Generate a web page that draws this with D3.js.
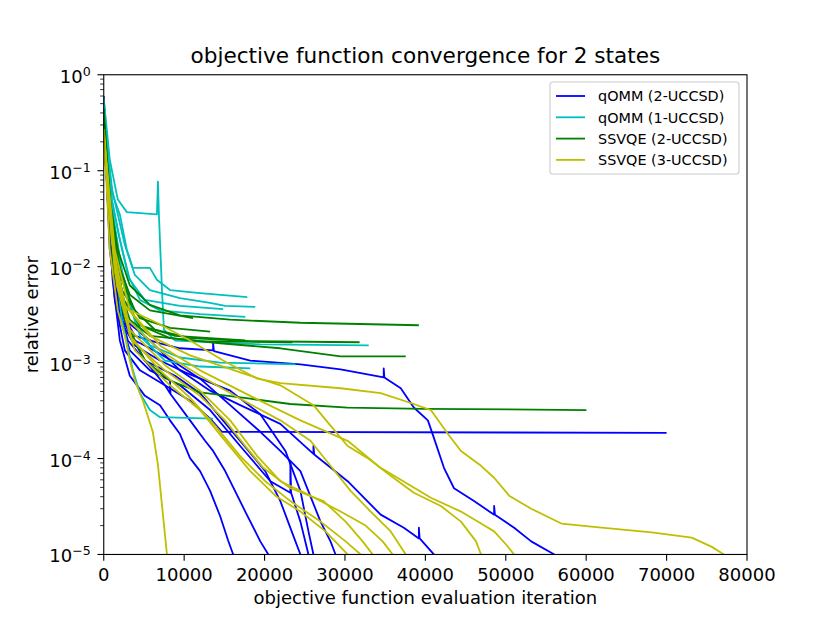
<!DOCTYPE html>
<html>
<head>
<meta charset="utf-8">
<script src="https://cdn.jsdelivr.net/npm/d3@7"></script>
<style>
  body { margin: 0; background: #fff; }
  text { font-family: "DejaVu Sans", sans-serif; }
</style>
</head>
<body>
<div class="chart-container"></div>
<script>
// each run is a list of [iteration, relative error]
const seriesNames = ["qOMM (2-UCCSD)", "qOMM (1-UCCSD)", "SSVQE (2-UCCSD)", "SSVQE (3-UCCSD)"];
const seriesColors = ["#0000ff", "#00bfbf", "#008000", "#bfbf00"];

const qommTwoRuns = [
  [[0,0.35],[500,0.05],[1000,0.0118],[1750,0.0045],[3000,0.0022],[5120,0.00105],[7610,0.00058],[10730,0.0004],[13230,0.00026],[14700,0.00019],[70000,0.000185]],
  [[0,0.44],[370,0.081],[750,0.015],[1370,0.0057],[2250,0.0033],[3870,0.0019],[6990,0.00159],[9480,0.00141],[13600,0.00134],[13600,0.0016],[13700,0.00132],[18220,0.00105],[24460,0.00096],[29450,0.00085],[34820,0.0007],[34820,0.00087],[34900,0.0007],[36940,0.00054],[38560,0.00034],[40310,0.00025],[41060,0.000164],[42310,8e-5],[43560,4.9e-5],[46050,3.6e-5],[48550,2.6e-5],[48550,3.2e-5],[48650,2.6e-5],[51040,1.9e-5],[53160,1.37e-5],[56040,1e-5],[56300,9.5e-6]],
  [[0,0.6],[500,0.05],[1100,0.0073],[2000,0.0017],[3240,0.00073],[5120,0.00045],[6990,0.00036],[8240,0.00025],[9480,0.00018],[10730,0.000101],[11980,7.4e-5],[13230,4.6e-5],[14480,2.5e-5],[15470,1.4e-5],[16100,1e-5],[16500,8.5e-6]],
  [[0,0.39],[620,0.031],[1370,0.0045],[2620,0.00134],[4500,0.00083],[7610,0.00058],[8240,0.00048],[8240,0.00065],[8300,0.00047],[10730,0.00025],[12600,0.000153],[13600,0.00012],[15100,7.4e-5],[17600,2.8e-5],[19470,1.37e-5],[20470,1e-5],[20800,8.5e-6]],
  [[0,0.35],[750,0.024],[1620,0.0045],[3000,0.0017],[5120,0.00105],[8860,0.00073],[11980,0.00048],[16970,0.000153],[20090,7.4e-5],[21960,3.6e-5],[23840,1.37e-5],[24460,1e-5],[24800,8.5e-6]],
  [[0,0.42],[750,0.019],[1750,0.0035],[3240,0.00134],[5740,0.00083],[9480,0.00058],[13230,0.00032],[16970,0.000135],[20720,5.8e-5],[23210,4.4e-5],[23210,9.4e-5],[23300,4.4e-5],[24460,2.2e-5],[25460,1e-5],[25700,8.5e-6]],
  [[0,0.5],[870,0.015],[2000,0.0028],[3870,0.00151],[6990,0.00105],[10110,0.00079],[15720,0.00051],[19470,0.00029],[22590,0.00012],[24460,4.6e-5],[25460,1.74e-5],[26080,1e-5],[26400,8.5e-6]],
  [[0,0.31],[1000,0.0118],[2250,0.0028],[3870,0.0017],[5740,0.00141],[8860,0.001],[11980,0.00068],[15720,0.00036],[19470,0.00019],[21960,0.00012],[24460,7.4e-5],[26960,2.2e-5],[28200,1.37e-5],[28830,1e-5],[29200,8.5e-6]],
  [[0,0.27],[1000,0.015],[2620,0.0028],[5740,0.0017],[9480,0.00083],[13230,0.00051],[16970,0.00036],[21960,0.00023],[26080,0.000112],[26080,0.000135],[26180,0.00011],[30330,5.8e-5],[34440,2.6e-5],[37320,1.9e-5],[39190,1.47e-5],[39190,1.9e-5],[39290,1.47e-5],[41060,1e-5],[41400,8.5e-6]]
];

const qommOneRuns = [
  [[0,0.56],[500,0.17],[1100,0.057],[2000,0.035],[2870,0.015],[3620,0.0097],[5740,0.0097],[6610,0.0073],[8240,0.0057],[11980,0.0053],[17850,0.0048]],
  [[0,0.44],[750,0.081],[1620,0.039],[2620,0.0169],[3870,0.0082],[5740,0.0057],[9480,0.0047],[13230,0.0042],[15100,0.0039],[18840,0.0038]],
  [[0,0.35],[1000,0.05],[2000,0.019],[3240,0.0073],[5120,0.0045],[9480,0.0039],[14850,0.0036]],
  [[0,0.39],[750,0.064],[1750,0.024],[3000,0.0082],[4500,0.0045],[6990,0.0035],[11980,0.0032],[17600,0.003]],
  [[0,0.56],[750,0.13],[1750,0.05],[2870,0.037],[6610,0.035],[6740,0.077],[6860,0.035],[7240,0.0057],[7490,0.0022],[8860,0.0017],[19470,0.00155],[32950,0.00151]],
  [[0,0.27],[1000,0.039],[2250,0.0092],[3870,0.0028],[5740,0.00151],[9480,0.00113],[14480,0.001],[23840,0.00096]],
  [[0,0.31],[1250,0.031],[2620,0.0057],[4500,0.0019],[7610,0.00105],[11980,0.00091],[18220,0.00087]],
  [[0,0.21],[1000,0.024],[2250,0.0028],[3620,0.00083],[4500,0.00048],[5740,0.00032],[6990,0.00027],[13600,0.00026]]
];

const ssvqeTwoRuns = [
  [[0,0.44],[750,0.05],[1750,0.015],[3240,0.0064],[5740,0.004],[9480,0.0031],[15720,0.0028],[24460,0.0026],[39190,0.00245]],
  [[0,0.35],[1000,0.031],[2250,0.0073],[3870,0.0035],[6360,0.0022],[10730,0.0018],[18220,0.00167],[31820,0.00163]],
  [[0,0.31],[1000,0.024],[2000,0.0057],[3240,0.0028],[5740,0.0019],[11980,0.00167],[23460,0.00163]],
  [[0,0.27],[1100,0.015],[2500,0.0045],[4500,0.00245],[8240,0.0018],[14480,0.00159],[21960,0.00141],[29450,0.00116],[37560,0.00116]],
  [[0,0.21],[1250,0.0092],[2620,0.0028],[5120,0.00105],[8240,0.00065],[11980,0.00049],[18220,0.00042],[23210,0.00037],[30330,0.00034],[39810,0.00033],[60030,0.00032]],
  [[0,0.35],[750,0.039],[1750,0.011],[3240,0.0051],[5740,0.0035],[11110,0.0029]],
  [[0,0.31],[1000,0.0215],[2250,0.0057],[4500,0.0029],[8240,0.0023],[13230,0.0021]],
  [[0,0.27],[1100,0.0169],[2500,0.0045],[4500,0.00245],[8860,0.0019],[17600,0.0017]]
];

const ssvqeThreeRuns = [
  [[0,0.27],[750,0.015],[1750,0.0035],[2620,0.0019],[3240,0.00105],[3870,0.00065],[4870,0.0004],[6100,0.00019],[6740,8.6e-5],[7360,2.6e-5],[7860,1e-5],[8000,8.5e-6]],
  [[0,0.27],[1000,0.019],[2370,0.0038],[6610,0.0026],[10730,0.0017],[14850,0.00105],[19090,0.00068],[21960,0.00061],[29450,0.00054],[34440,0.00048],[38560,0.00037],[40680,0.00032],[42810,0.00018],[44430,0.00012],[46920,8.4e-5],[48550,6.3e-5],[50420,4.1e-5],[53160,3.0e-5],[56910,2.1e-5],[61900,1.9e-5],[68140,1.7e-5],[73130,1.5e-5],[75630,1.2e-5],[77130,1e-5],[77500,9e-6]],
  [[0,0.24],[1370,0.015],[3240,0.0035],[6990,0.00151],[11980,0.00083],[18220,0.00045],[24460,0.00025],[30330,0.000153],[34440,8e-5],[40680,3.9e-5],[44430,2.8e-5],[46920,2.1e-5],[48550,1.74e-5],[50040,1.27e-5],[51040,1e-5],[51300,9e-6]],
  [[0,0.27],[1100,0.0169],[2620,0.004],[5740,0.0019],[10730,0.00119],[16970,0.00079],[21960,0.00058],[26080,0.00036],[28200,0.00022],[30330,0.000135],[32820,0.000101],[35690,6.6e-5],[38560,4.4e-5],[41930,3.2e-5],[44430,2.2e-5],[46300,1.37e-5],[46920,1e-5],[47100,9e-6]],
  [[0,0.24],[1250,0.0133],[3000,0.0028],[6990,0.00134],[11980,0.00073],[16970,0.00042],[21960,0.00025],[25710,0.000153],[28200,8.4e-5],[30700,4.6e-5],[33200,2.8e-5],[35690,1.74e-5],[37560,1e-5],[37800,9e-6]],
  [[0,0.21],[1370,0.0104],[3240,0.0022],[7610,0.00094],[11980,0.00051],[15720,0.00025],[19090,0.000106],[21960,5.8e-5],[25710,4.1e-5],[29450,2.8e-5],[32570,2.0e-5],[34690,1.37e-5],[35940,1e-5],[36200,9e-6]],
  [[0,0.19],[1500,0.0082],[3500,0.0017],[7610,0.00083],[11980,0.00045],[15100,0.00025],[17600,0.000135],[19840,8e-5],[23210,4.9e-5],[27330,3.6e-5],[30080,2.2e-5],[32200,1.37e-5],[33450,1e-5],[33700,9e-6]],
  [[0,0.21],[1370,0.0092],[3240,0.0019],[6990,0.00083],[10730,0.00043],[13850,0.00022],[16970,0.000106],[20090,5.8e-5],[23210,3.6e-5],[26960,2.2e-5],[30080,1.37e-5],[31950,1e-5],[32200,9e-6]],
  [[0,0.19],[1620,0.0064],[3870,0.00134],[8240,0.00058],[11980,0.00032],[15100,0.000153],[18220,7.4e-5],[21340,4.1e-5],[24460,2.8e-5],[27580,1.74e-5],[30330,1e-5],[30600,9e-6]]
];

const xTicks = [0, 10000, 20000, 30000, 40000, 50000, 60000, 70000, 80000];
const yExponents = [0, -1, -2, -3, -4, -5];

const width = 830, height = 623;
const plotLeft = 103.75, plotRight = 747, plotTop = 74.76, plotBottom = 554.47;

const svg = d3.select(".chart-container")
  .append("svg")
  .attr("width", width)
  .attr("height", height);

const x = d3.scaleLinear().domain([0, 80000]).range([plotLeft, plotRight]);
const y = d3.scaleLog().domain([1e-5, 1]).range([plotBottom, plotTop]);

svg.append("defs").append("clipPath").attr("id", "plot-clip")
  .append("rect")
  .attr("x", plotLeft).attr("y", plotTop)
  .attr("width", plotRight - plotLeft).attr("height", plotBottom - plotTop);

const line = d3.line().x(d => x(d[0])).y(d => y(d[1]));

const allSeries = [qommTwoRuns, qommOneRuns, ssvqeTwoRuns, ssvqeThreeRuns];

const plot = svg.append("g").attr("clip-path", "url(#plot-clip)");
allSeries.forEach((runs, i) => {
  plot.append("g")
    .attr("fill", "none")
    .attr("stroke", seriesColors[i])
    .attr("stroke-width", 1.8)
    .attr("stroke-linejoin", "round")
    .selectAll("path")
    .data(runs)
    .join("path")
    .attr("d", line);
});

// x axis ticks
const xAxis = svg.append("g");
xAxis.selectAll("line")
  .data(xTicks)
  .join("line")
  .attr("x1", d => x(d)).attr("x2", d => x(d))
  .attr("y1", plotBottom).attr("y2", plotBottom + 6.3)
  .attr("stroke", "#000").attr("stroke-width", 1.1);
xAxis.selectAll("text")
  .data(xTicks)
  .join("text")
  .attr("x", d => x(d))
  .attr("y", plotBottom + 27)
  .attr("text-anchor", "middle")
  .attr("font-size", 18)
  .text(d => d);

// y axis: major and minor ticks on a log scale
const minorTicks = [];
yExponents.slice(0, -1).forEach(e => {
  for (let m = 2; m <= 9; m++) minorTicks.push(m * Math.pow(10, e - 1));
});
const yAxis = svg.append("g");
yAxis.selectAll("line.minor")
  .data(minorTicks)
  .join("line")
  .attr("class", "minor")
  .attr("x1", plotLeft - 3.6).attr("x2", plotLeft)
  .attr("y1", d => y(d)).attr("y2", d => y(d))
  .attr("stroke", "#000").attr("stroke-width", 0.8);
yAxis.selectAll("line.major")
  .data(yExponents)
  .join("line")
  .attr("class", "major")
  .attr("x1", plotLeft - 6.3).attr("x2", plotLeft)
  .attr("y1", d => y(Math.pow(10, d))).attr("y2", d => y(Math.pow(10, d)))
  .attr("stroke", "#000").attr("stroke-width", 1.1);
const yLabels = yAxis.selectAll("text")
  .data(yExponents)
  .join("text")
  .attr("x", plotLeft - 13)
  .attr("y", d => y(Math.pow(10, d)) + 8)
  .attr("text-anchor", "end")
  .attr("font-size", 18);
yLabels.append("tspan").text("10");
yLabels.append("tspan")
  .attr("font-size", 12.6)
  .attr("dy", -7)
  .text(d => d === 0 ? "0" : "\u2212" + Math.abs(d));

// frame
svg.append("rect")
  .attr("x", plotLeft).attr("y", plotTop)
  .attr("width", plotRight - plotLeft).attr("height", plotBottom - plotTop)
  .attr("fill", "none")
  .attr("stroke", "#000")
  .attr("stroke-width", 1.1);

// titles
svg.append("text")
  .attr("x", (plotLeft + plotRight) / 2).attr("y", 63)
  .attr("text-anchor", "middle")
  .attr("font-size", 21.6)
  .text("objective function convergence for 2 states");
svg.append("text")
  .attr("x", (plotLeft + plotRight) / 2).attr("y", 604)
  .attr("text-anchor", "middle")
  .attr("font-size", 18)
  .text("objective function evaluation iteration");
svg.append("text")
  .attr("transform", `translate(38,${(plotTop + plotBottom) / 2}) rotate(-90)`)
  .attr("text-anchor", "middle")
  .attr("font-size", 18)
  .text("relative error");

// legend
const legend = svg.append("g").attr("transform", "translate(550,82)");
legend.append("rect")
  .attr("width", 189).attr("height", 92)
  .attr("rx", 3)
  .attr("fill", "#fff").attr("fill-opacity", 0.8)
  .attr("stroke", "#cccccc").attr("stroke-width", 1.1);
const entries = legend.selectAll("g")
  .data(seriesNames)
  .join("g")
  .attr("transform", (d, i) => `translate(0,${14 + i * 21.3})`);
entries.append("line")
  .attr("x1", 6).attr("x2", 35)
  .attr("stroke", (d, i) => seriesColors[i])
  .attr("stroke-width", 1.8);
entries.append("text")
  .attr("x", 48).attr("y", 5.2)
  .attr("font-size", 14.4)
  .text(d => d);
</script>
</body>
</html>
